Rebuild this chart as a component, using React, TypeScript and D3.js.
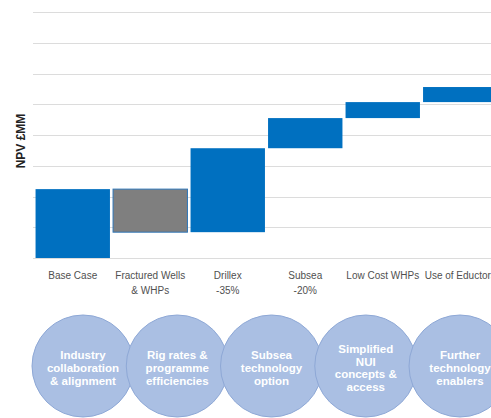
import React from "react";
import * as d3 from "d3";

const categories = ["Base Case", "Fractured Wells|& WHPs", "Drillex|-35%", "Subsea|-20%", "Low Cost WHPs", "Use of Eductors"];
const deltas = [224, -140, 273, 98, 52, 49];
const kinds = ["total", "negative", "positive", "positive", "positive", "positive"];
const gridTicks = [0, 100, 200, 300, 400, 500, 600, 700, 800];
const circleLabels = [
  ["Industry", "collaboration", "& alignment"],
  ["Rig rates &", "programme", "efficiencies"],
  ["Subsea", "technology", "option"],
  ["Simplified", "NUI", "concepts &", "access"],
  ["Further", "technology", "enablers"],
];
const yTitle = "NPV £MM";

export default function App() {
  const W = 491, H = 418;
  const x = d3.scaleBand<string>().domain(categories).range([34, 499]).paddingInner(0.04).paddingOuter(0.02);
  const y = d3.scaleLinear().domain([0, 800]).range([258, 12]);

  let cum = 0;
  const bars = categories.map((c, i) => {
    const start = cum;
    const end = cum + deltas[i];
    cum = end;
    return { c, lo: Math.min(start, end), hi: Math.max(start, end), kind: kinds[i] };
  });

  const cx = d3.scalePoint<number>().domain(circleLabels.map((_, i) => i)).range([83, 460]);
  const font = "'Liberation Sans', Arial, sans-serif";

  return (
    <svg width={W} height={H} style={{ position: "absolute", left: 0, top: 0, background: "#fff" }}>
      {gridTicks.map((t) => (
        <line key={t} x1={33} x2={W} y1={Math.round(y(t)) + 0.5} y2={Math.round(y(t)) + 0.5} stroke="#dcdcdc" strokeWidth={1} />
      ))}
      {bars.map((b) => (
        <rect
          key={b.c}
          x={x(b.c)}
          width={x.bandwidth()}
          y={y(b.hi)}
          height={y(b.lo) - y(b.hi)}
          fill={b.kind === "negative" ? "#7f7f7f" : "#0070c0"}
          stroke={b.kind === "negative" ? "#2e75b6" : "none"}
          strokeWidth={1}
        />
      ))}
      {categories.map((c) => {
        const lines = c.split("|");
        return (
          <text key={c} x={(x(c) ?? 0) + x.bandwidth() / 2} textAnchor="middle" fontFamily={font} fontSize={10} fill="#505050">
            {lines.map((l, j) => (
              <tspan key={j} x={(x(c) ?? 0) + x.bandwidth() / 2} y={279 + j * 15}>{l}</tspan>
            ))}
          </text>
        );
      })}
      <text transform="translate(25,141) rotate(-90)" textAnchor="middle" fontFamily={font} fontWeight="bold" fontSize={12} fill="#222">
        {yTitle}
      </text>
      {circleLabels.map((lines, i) => (
        <g key={i}>
          <circle cx={cx(i)} cy={366} r={51} fill="#aabfe3" stroke="#8ea8d6" strokeWidth={1} />
          <text textAnchor="middle" fontFamily={font} fontWeight="bold" fontSize={11.5} fill="#fff">
            {lines.map((l, j) => (
              <tspan key={j} x={cx(i)} y={368 + 4 - ((lines.length - 1) * 12.8) / 2 + j * 12.8}>{l}</tspan>
            ))}
          </text>
        </g>
      ))}
    </svg>
  );
}
